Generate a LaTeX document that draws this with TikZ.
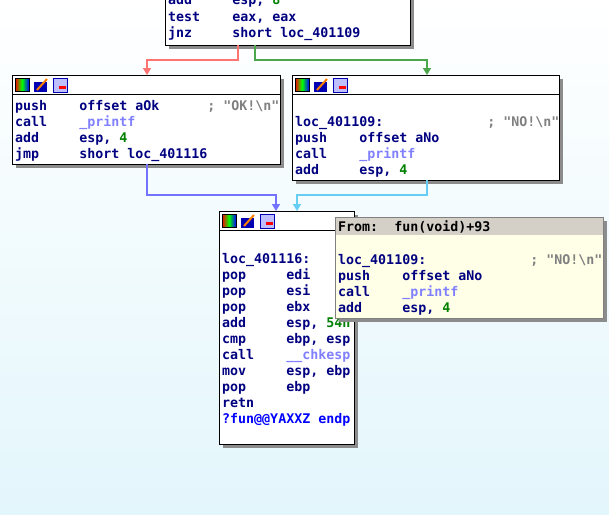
\documentclass[tikz,border=0pt]{standalone}
\usepackage{fontspec}
\setmonofont{DejaVu Sans Mono}
\usetikzlibrary{positioning}
\usetikzlibrary{arrows.meta}
\definecolor{idanavy}{HTML}{000080}
\definecolor{idafunc}{HTML}{8080FF}
\definecolor{idanum}{HTML}{008000}
\definecolor{idacmt}{HTML}{808080}
\definecolor{idabg}{HTML}{E3F6FC}
\definecolor{idatip}{HTML}{FFFFE8}
\definecolor{idatiphead}{HTML}{D4D0C8}
\newcommand{\fn}[1]{\textcolor{idafunc}{#1}}
\newcommand{\nm}[1]{\textcolor{idanum}{#1}}
\newcommand{\cm}[1]{\textcolor{idacmt}{#1}}
\tikzset{
 asm/.style={anchor=base west, inner sep=0pt, text=idanavy, font=\ttfamily\bfseries\fontsize{13.3}{16}\selectfont},
 blockbox/.style={draw=black, fill=white, line width=1pt},
 shadow/.style={fill=black!45},
 flow/.style={line width=1.6pt, -{Triangle[length=7pt,width=8pt]}},
}
% one icon bar at the top of a block
\newcommand{\iconbar}[2]{%
 \shade[left color=red, right color=blue, middle color=green] (#1+3,#2+3) rectangle (#1+17,#2+16);
 \draw (#1+3,#2+3) rectangle (#1+17,#2+16);
 \fill[blue!70!black] (#1+22,#2+7) rectangle (#1+35,#2+17);
 \draw[orange, line width=2pt] (#1+25,#2+15) -- (#1+35,#2+4);
 \fill[blue!25] (#1+41,#2+3) rectangle (#1+55,#2+17);
 \draw[blue!70!black] (#1+41,#2+3) rectangle (#1+55,#2+17);
 \fill[red] (#1+47,#2+11) rectangle (#1+54,#2+14);
}
\begin{document}
\begin{tikzpicture}[x=1pt, y=-1pt]
\fill[top color=white, bottom color=idabg] (0,0) rectangle (609,514);
\useasboundingbox (0,0) rectangle (609,514);

% top block
\fill[shadow] (169,-20) rectangle (414,49);
\draw[blockbox] (165,-20) rectangle (410,45);
\node[asm] (t1) at (168,5) {add~~~~~esp, \nm{8}};
\node[asm] (t2) at (168,21) {test~~~~eax, eax};
\node[asm] (t3) at (168,37) {jnz~~~~~short loc\_401109};
\coordinate (topred) at (238,45);
\coordinate (topgreen) at (255,45);

% left block
\fill[shadow] (16,79) rectangle (284,168);
\draw[blockbox] (12,75) rectangle (280,164);
\draw (12,94) -- (280,94);
\iconbar{12}{75}
\node[asm] (l1) at (15,110) {push~~~~offset aOk~~~~~~\cm{; "OK!\textbackslash n"}};
\node[asm] (l2) at (15,126) {call~~~~\fn{\_printf}};
\node[asm] (l3) at (15,142) {add~~~~~esp, \nm{4}};
\node[asm] (l4) at (15,158) {jmp~~~~~short loc\_401116};

% right block
\fill[shadow] (296,79) rectangle (563,184);
\draw[blockbox] (292,75) rectangle (559,180);
\draw (292,94) -- (559,94);
\iconbar{292}{75}
\node[asm] (r1) at (295,126) {loc\_401109:~~~~~~~~~~~~~\cm{; "NO!\textbackslash n"}};
\node[asm] (r2) at (295,142) {push~~~~offset aNo};
\node[asm] (r3) at (295,158) {call~~~~\fn{\_printf}};
\node[asm] (r4) at (295,174) {add~~~~~esp, \nm{4}};

% bottom block
\fill[shadow] (223,215) rectangle (358,448);
\draw[blockbox] (219,211) rectangle (354,444);
\draw (219,230) -- (354,230);
\iconbar{219}{211}
\begin{scope}
\clip (219,230) rectangle (354,444);
\foreach \txt [count=\i] in {{loc\_401116:},{pop~~~~~edi},{pop~~~~~esi},{pop~~~~~ebx},{add~~~~~esp, \nm{54h}},{cmp~~~~~ebp, esp},{call~~~~\fn{\_\_chkesp}},{mov~~~~~esp, ebp},{pop~~~~~ebp},{retn}}
  \node[asm] (b\i) at (222,247+16*\i) {\txt};
\node[asm, text=blue] (b11) at (222,423) {?fun@@YAXXZ endp};
\end{scope}

% edges
\draw[flow, red!55] (topred) |- (147,60) -- (147,75);
\draw[flow, green!50!black!70] (topgreen) |- (427,60) -- (427,75);
\draw[flow, blue!55] (147,164) |- (276,195) -- (276,211);
\draw[flow, cyan!60] (427,180) |- (297,195) -- (297,211);

% tooltip
\fill[black!45] (339,221) rectangle (607,322);
\fill[idatip] (335,217) rectangle (603,318);
\fill[idatiphead] (335,217) rectangle (603,235);
\draw[black!50] (335,217) rectangle (603,318);
\node[asm, text=black] (f0) at (338,231) {From:~~fun(void)+93};
\node[asm] (f1) at (338,264) {loc\_401109:~~~~~~~~~~~~~\cm{; "NO!\textbackslash n"}};
\node[asm] (f2) at (338,280) {push~~~~offset aNo};
\node[asm] (f3) at (338,296) {call~~~~\fn{\_printf}};
\node[asm] (f4) at (338,312) {add~~~~~esp, \nm{4}};
\end{tikzpicture}
\end{document}
